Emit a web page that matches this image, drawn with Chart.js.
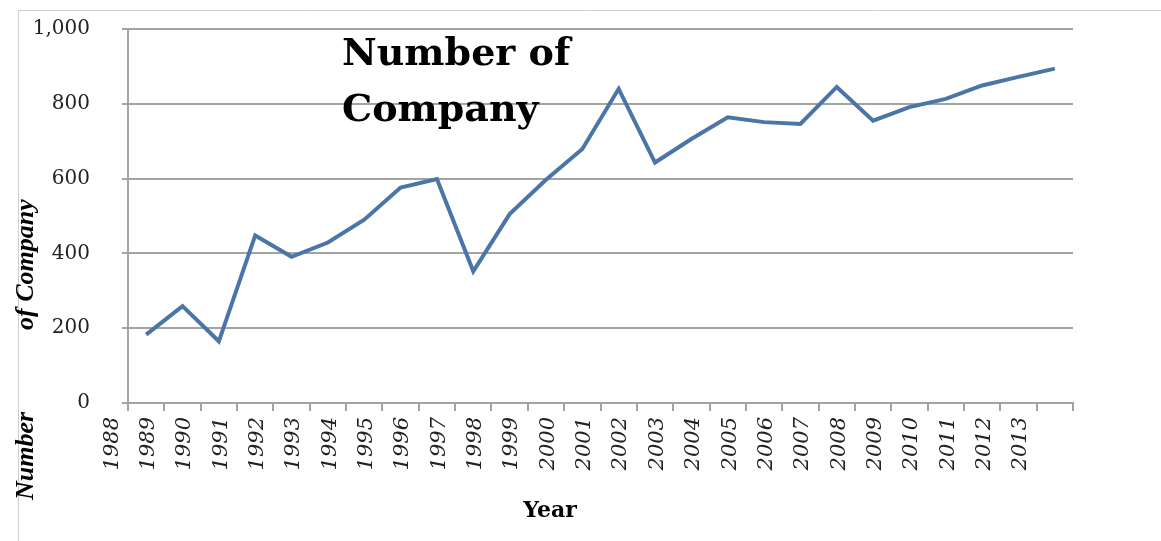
<!DOCTYPE html>
<html>
<head>
<meta charset="utf-8">
<script src="https://cdn.jsdelivr.net/npm/chart.js@4.4.0/dist/chart.umd.min.js"></script>
<style>
  html, body { margin: 0; padding: 0; background: #fff; }
  #wrap { position: relative; width: 1161px; height: 541px; }
</style>
</head>
<body>
<div id="wrap"><canvas id="chart" width="1161" height="541"></canvas></div>
<script>
// chart data
const years = ['1988', '1989', '1990', '1991', '1992', '1993', '1994', '1995', '1996',
  '1997', '1998', '1999', '2000', '2001', '2002', '2003', '2004', '2005', '2006',
  '2007', '2008', '2009', '2010', '2011', '2012', '2013'];
const companies = [183, 259, 165, 448, 391, 429, 490, 576, 599, 352, 505, 597, 679,
  840, 643, 706, 764, 751, 746, 845, 755, 791, 813, 849, 872, 894];
const yTicks = [0, 200, 400, 600, 800, 1000];
const chartTitle = ['Number of', 'Company'];
const xTitle = 'Year';
const yTitle = ['Number', 'of Company'];

const axisGray = '#a3a3a3';

// frame + titles that sit on top of / beside the plot
const textPlugin = {
  id: 'texts',
  beforeDraw(chart) {
    const ctx = chart.ctx;
    ctx.save();
    ctx.strokeStyle = '#cfcfcf';
    ctx.lineWidth = 1;
    ctx.beginPath();
    ctx.moveTo(18.5, 541);
    ctx.lineTo(18.5, 10.5);
    ctx.lineTo(1161, 10.5);
    ctx.stroke();
    ctx.restore();
  },
  afterDraw(chart) {
    const ctx = chart.ctx;
    ctx.save();
    ctx.fillStyle = '#000';
    ctx.textBaseline = 'alphabetic';
    ctx.font = 'bold 38px "DejaVu Serif"';
    ctx.fillText(chartTitle[0], 342, 65);
    ctx.fillText(chartTitle[1], 342, 121);

    ctx.font = 'bold 22px "DejaVu Serif"';
    ctx.textAlign = 'center';
    ctx.fillText(xTitle, 550, 517);

    ctx.translate(33, 0);
    ctx.rotate(-Math.PI / 2);
    ctx.textAlign = 'left';
    ctx.font = 'italic bold 26px "Liberation Serif"';
    ctx.fillText(yTitle[0], -500, 0);
    ctx.fillText(yTitle[1], -330, 0);
    ctx.restore();
  }
};

new Chart(document.getElementById('chart').getContext('2d'), {
  type: 'line',
  data: {
    labels: years,
    datasets: [{
      label: 'Number of Company',
      data: companies,
      borderColor: '#4a75a6',
      borderWidth: 4,
      pointRadius: 0,
      tension: 0,
      fill: false
    }]
  },
  options: {
    responsive: false,
    animation: false,
    layout: { padding: { top: 29, right: 88, left: 0, bottom: 0 } },
    plugins: { legend: { display: false }, tooltip: { enabled: false } },
    scales: {
      x: {
        type: 'category',
        offset: true,
        grid: { offset: true, drawOnChartArea: false, tickLength: 8, color: axisGray, lineWidth: 2 },
        border: { color: axisGray, width: 2 },
        ticks: {
          autoSkip: false, minRotation: 90, maxRotation: 90, labelOffset: -34, padding: 6,
          color: '#222', font: { family: 'DejaVu Serif', style: 'italic', size: 21 }
        },
        afterFit: s => { s.height = 138; }
      },
      y: {
        min: 0,
        max: 1000,
        afterBuildTicks: s => { s.ticks = yTicks.map(v => ({ value: v })); },
        // long tick so labels sit well left of the axis; dash keeps only a short mark visible
        grid: { color: axisGray, lineWidth: 2, tickLength: 38, tickBorderDash: [6, 32], tickBorderDashOffset: 6 },
        border: { color: axisGray, width: 2 },
        ticks: {
          padding: 0, color: '#222',
          font: { family: 'DejaVu Serif', size: 20 },
          callback: v => v.toLocaleString('en-US')
        },
        afterFit: s => { s.width = 128; }
      }
    }
  },
  plugins: [textPlugin]
});
</script>
</body>
</html>
